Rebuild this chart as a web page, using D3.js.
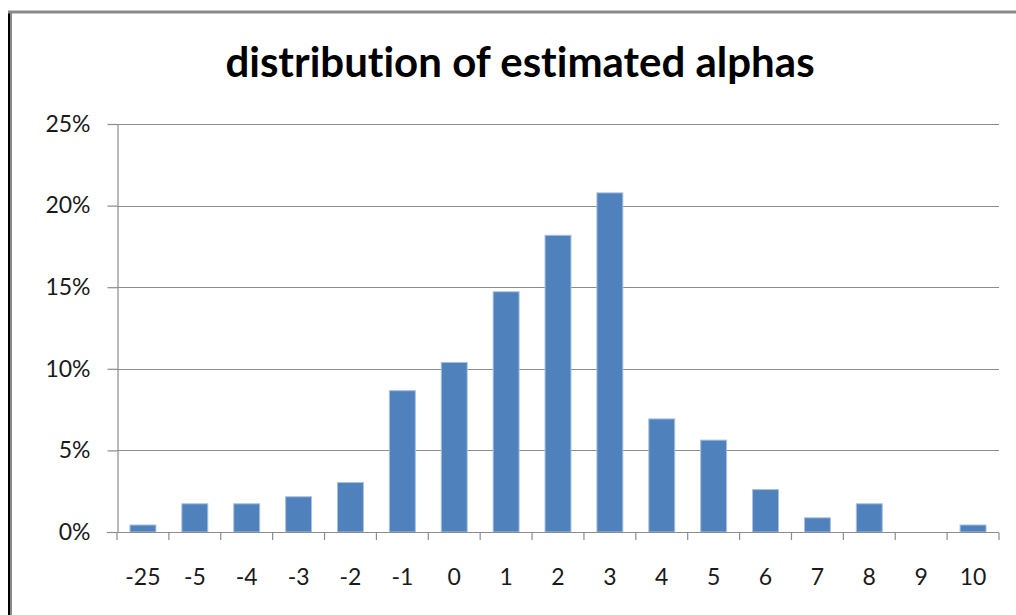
<!DOCTYPE html>
<html>
<head>
<meta charset="utf-8">
<script src="https://cdn.jsdelivr.net/npm/d3@7"></script>
<style>
  html, body { margin: 0; padding: 0; background: #fff; }
  svg { display: block; }
  text { font-variant-ligatures: none; font-feature-settings: "liga" 0; }
</style>
</head>
<body>
<svg id="chart" width="1016" height="615"></svg>
<script>
// Histogram buckets of estimated alphas and the share of estimates in each
const categories = ["-25", "-5", "-4", "-3", "-2", "-1", "0", "1", "2", "3", "4", "5", "6", "7", "8", "9", "10"];
const shares = [0.43, 1.73, 1.73, 2.16, 3.03, 8.66, 10.39, 14.72, 18.18, 20.78, 6.93, 5.63, 2.60, 0.87, 1.73, 0, 0.43];
const yTicks = [0, 5, 10, 15, 20, 25];
const title = "distribution of estimated alphas";

const svg = d3.select("#chart");
const font = "Lato, 'Open Sans', sans-serif";

// outer chart frame
svg.append("rect").attr("x", 0).attr("y", 0).attr("width", 1016).attr("height", 615).attr("fill", "#fff");
svg.append("line").attr("x1", 9).attr("x2", 9).attr("y1", 11).attr("y2", 615)
  .attr("stroke", "#000").attr("stroke-width", 2);
svg.append("line").attr("x1", 11).attr("x2", 11).attr("y1", 12).attr("y2", 615)
  .attr("stroke", "#8a8a8a").attr("stroke-width", 2);
svg.append("line").attr("x1", 8).attr("x2", 1016).attr("y1", 12).attr("y2", 12)
  .attr("stroke", "#8a8a8a").attr("stroke-width", 3);

const plot = { left: 117, right: 999, top: 124, bottom: 532 };

const x = d3.scaleBand().domain(categories).range([plot.left, plot.right]).paddingInner(0.5).paddingOuter(0.25);
const xEdge = d3.scaleLinear().domain([0, categories.length]).range([plot.left, plot.right]);
const y = d3.scaleLinear().domain([0, 25]).range([plot.bottom, plot.top]);

// horizontal gridlines
svg.append("g").selectAll("line").data(yTicks.filter(d => d > 0)).join("line")
  .attr("x1", plot.left).attr("x2", plot.right)
  .attr("y1", d => Math.round(y(d)) + 0.5).attr("y2", d => Math.round(y(d)) + 0.5)
  .attr("stroke", "#8c8c8c").attr("stroke-width", 1.2);

// y axis
const yAxis = svg.append("g").attr("transform", `translate(${plot.left + 0.5},0)`)
  .call(d3.axisLeft(y).tickValues(yTicks).tickSize(10).tickSizeOuter(0).tickPadding(17).tickFormat(d => d + "%"));
yAxis.select(".domain").attr("stroke", "#8c8c8c").attr("stroke-width", 1.2);
yAxis.selectAll(".tick line").attr("stroke", "#8c8c8c").attr("stroke-width", 1.2);
yAxis.selectAll(".tick text").attr("font-family", font).attr("font-size", 23).attr("fill", "#1a1a1a");

// bars
svg.append("g").selectAll("rect").data(categories.map((c, i) => ({ c, v: shares[i] }))).join("rect")
  .attr("x", d => x(d.c))
  .attr("width", x.bandwidth())
  .attr("y", d => y(d.v))
  .attr("height", d => y(0) - y(d.v))
  .attr("fill", "#4f81bd")
  .attr("stroke", d => d.v > 0 ? "#a9c1de" : "none")
  .attr("stroke-width", 1);

// x axis baseline and tick marks between categories
svg.append("line").attr("x1", plot.left - 10).attr("x2", plot.right)
  .attr("y1", Math.round(y(0)) + 0.5).attr("y2", Math.round(y(0)) + 0.5)
  .attr("stroke", "#8c8c8c").attr("stroke-width", 1.2);
svg.append("g").selectAll("line").data(d3.range(categories.length + 1)).join("line")
  .attr("x1", d => xEdge(d)).attr("x2", d => xEdge(d))
  .attr("y1", Math.round(y(0)) + 0.5).attr("y2", Math.round(y(0)) + 8)
  .attr("stroke", "#8c8c8c").attr("stroke-width", 1.2);

// category labels
svg.append("g").selectAll("text").data(categories).join("text")
  .attr("x", d => x(d) + x.bandwidth() / 2)
  .attr("y", 585)
  .attr("text-anchor", "middle")
  .attr("font-family", font).attr("font-size", 23).attr("fill", "#1a1a1a")
  .text(d => d);

// title
svg.append("text")
  .attr("x", 520).attr("y", 77)
  .attr("text-anchor", "middle")
  .attr("font-family", font).attr("font-weight", "bold").attr("font-size", 42).attr("fill", "#000")
  .text(title);
</script>
</body>
</html>
